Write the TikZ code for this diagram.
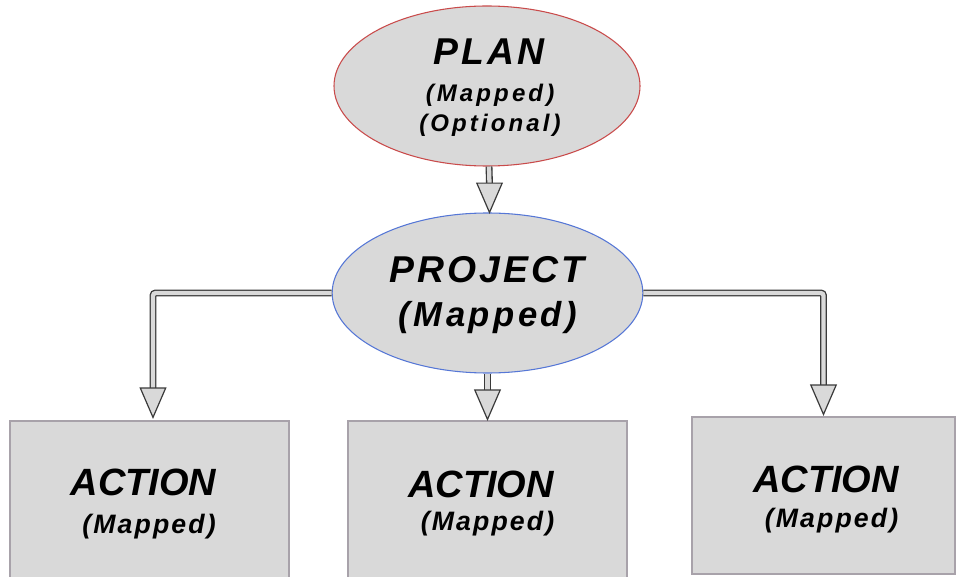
\documentclass[tikz,border=0pt]{standalone}
\usepackage{fontspec}
\setmainfont{Liberation Sans}
\newfontfamily\fTitle[LetterSpace=8]{Liberation Sans}
\newfontfamily\fSub[LetterSpace=13]{Liberation Sans}
\newfontfamily\fProjSub[LetterSpace=10]{Liberation Sans}
\newfontfamily\fBoxSub[LetterSpace=8]{Liberation Sans}
\usetikzlibrary{shapes.geometric,calc}
\definecolor{shfill}{HTML}{D9D9D9}
\definecolor{planred}{HTML}{C94B4B}
\definecolor{projblue}{HTML}{5677D6}
\definecolor{boxgray}{HTML}{A8A2AA}
\definecolor{arrdark}{HTML}{3A3A3A}
\tikzset{
  planshape/.style={ellipse, draw=planred, line width=0.8pt, fill=shfill, minimum width=229.5pt, minimum height=120pt, inner sep=0pt},
  projshape/.style={ellipse, draw=projblue, line width=0.8pt, fill=shfill, minimum width=233pt, minimum height=120pt, inner sep=0pt},
  actbox/.style={rectangle, draw=boxgray, line width=0.9pt, fill=shfill, inner sep=0pt},
  txt/.style={anchor=base, inner sep=0pt, text=black},
  shaft/.style={draw=arrdark, line width=1pt, double=shfill, double distance=3.2pt, rounded corners=2pt},
  headst/.style={draw=arrdark, line width=0.9pt, fill=shfill, line join=miter},
}
\newcommand\arrhead[1]{\draw[headst] (#1) -- ++(-9.5pt,22pt) -- ++(19pt,0pt) -- cycle;}
\begin{document}
\begin{tikzpicture}[x=0.75pt, y=-0.75pt]
\useasboundingbox (0,0) rectangle (961,577);
% shapes
\node[planshape] (plan) at (487,86) {};
\node[projshape] (proj) at (487.5,293) {};
\node[actbox, minimum width=209.25pt, minimum height=129pt] (a1) at (149.5,507) {};
\node[actbox, minimum width=209.25pt, minimum height=129pt] (a2) at (487.5,507) {};
\node[actbox, minimum width=197.25pt, minimum height=117.75pt] (a3) at (823.5,495.5) {};
% texts
\node[txt] (planT) at (489,65) {\fTitle\bfseries\itshape\fontsize{28}{30}\selectfont PLAN};
\node[txt] (planM) at (490,102) {\fSub\bfseries\itshape\fontsize{18}{20}\selectfont (Mapped)};
\node[txt] (planO) at (490,132) {\fSub\bfseries\itshape\fontsize{18}{20}\selectfont (Optional)};
\node[txt] (projT) at (487,283) {\fTitle\bfseries\itshape\fontsize{28}{30}\selectfont PROJECT};
\node[txt] (projM) at (488,327) {\fProjSub\bfseries\itshape\fontsize{26}{28}\selectfont (Mapped)};
\node[txt] (a1T) at (143.5,495) {\bfseries\itshape\fontsize{28.5}{30}\selectfont ACTION};
\node[txt] (a1M) at (149,533) {\fBoxSub\bfseries\itshape\fontsize{20}{22}\selectfont (Mapped)};
\node[txt] (a2T) at (481,497) {\bfseries\itshape\fontsize{28.5}{30}\selectfont ACTION};
\node[txt] (a2M) at (487.5,530) {\fBoxSub\bfseries\itshape\fontsize{20}{22}\selectfont (Mapped)};
\node[txt] (a3T) at (826,492) {\bfseries\itshape\fontsize{28.5}{30}\selectfont ACTION};
\node[txt] (a3M) at (831.5,527) {\fBoxSub\bfseries\itshape\fontsize{20}{22}\selectfont (Mapped)};
% connectors
\coordinate (h0) at ($(plan.south)+(2,0)$);
\coordinate (t0) at ($(proj.north)+(2,0)$);
\draw[shaft] (h0) -- ([yshift=21pt]t0);
\arrhead{t0}
\coordinate (t2) at ($(a2.north)+(0,-1)$);
\draw[shaft] (proj.south) -- ([yshift=21pt]t2);
\arrhead{t2}
\coordinate (t1) at ($(a1.north)+(3.5,-3)$);
\draw[shaft] (proj.west) -| ([yshift=21pt]t1);
\arrhead{t1}
\coordinate (t3) at ($(a3.north)+(0,-2)$);
\draw[shaft] (proj.east) -| ([yshift=21pt]t3);
\arrhead{t3}
\end{tikzpicture}
\end{document}
